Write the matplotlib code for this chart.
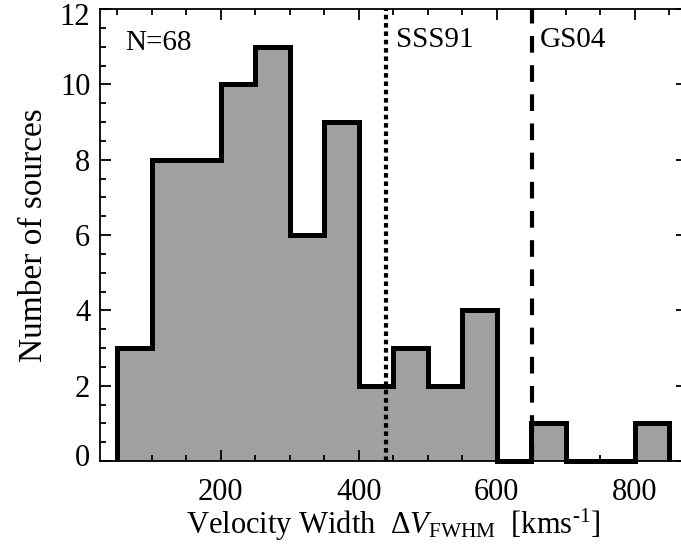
import matplotlib
matplotlib.use("Agg")
import matplotlib.pyplot as plt
import matplotlib.transforms as mtransforms
import numpy as np

# Data
bin_edges = [50, 100, 150, 200, 250, 300, 350, 400, 450, 500, 550, 600, 650, 700, 750, 800, 850]
counts = [3, 8, 8, 10, 11, 6, 9, 2, 3, 2, 4, 0, 1, 0, 0, 1]
ref_lines = [440, 651]
ref_labels = ["SSS91", "GS04"]
n_label = "N=68"
x_ticks = [200, 400, 600, 800]
y_ticks = [0, 2, 4, 6, 8, 10, 12]

plt.rcParams['font.family'] = ['Liberation Serif', 'DejaVu Serif']
plt.rcParams['mathtext.fontset'] = 'custom'
plt.rcParams['mathtext.rm'] = 'Liberation Serif'
plt.rcParams['mathtext.it'] = 'Liberation Serif:italic'

fig = plt.figure(figsize=(6.81, 5.45), dpi=100)
ax = fig.add_axes([100/681, 84/545, 586.5/681, 452/545])

ax.stairs(counts, bin_edges, fill=True, color='#a0a0a0', baseline=0, zorder=1)
ax.stairs(counts, bin_edges, fill=False, color='black', linewidth=3.6, baseline=0,
          zorder=3, clip_on=False)

ax.axvline(ref_lines[0], color='black', linewidth=3.0, linestyle=(0, (1.1, 0.9)), zorder=4)
ax.axvline(ref_lines[1], color='black', linewidth=3.0, linestyle=(0, (4, 3)), zorder=4)

ax.text(ref_lines[0] + 14, 11.0, ref_labels[0], fontsize=21, va='baseline', ha='left')
ax.text(ref_lines[1] + 12, 11.0, ref_labels[1], fontsize=21, va='baseline', ha='left')
ax.text(61, 10.9, n_label, fontsize=21, va='baseline', ha='left')

ax.set_xlim(25, 875)
ax.set_ylim(0, 12)
ax.set_xticks(x_ticks)
ax.set_yticks(y_ticks)
ax.set_xticks(np.arange(50, 876, 50), minor=True)
ax.set_yticks(np.arange(0, 12.01, 0.5), minor=True)

ax.tick_params(which='both', direction='in', top=True, right=True, width=1.3, labelsize=22, color='black')
ax.tick_params(which='major', length=8)
ax.tick_params(which='minor', length=4.5)
ax.tick_params(axis='x', pad=12)
ax.tick_params(axis='y', pad=7)
for s in ax.spines.values():
    s.set_linewidth(1.3)

# nudge end labels inward like the reference
for lab, v in zip(ax.get_yticklabels(), y_ticks):
    if v == 0:
        lab.set_transform(lab.get_transform() + mtransforms.ScaledTranslation(0, 6/100, fig.dpi_scale_trans))
    elif v == 12:
        lab.set_transform(lab.get_transform() + mtransforms.ScaledTranslation(0, -5/100, fig.dpi_scale_trans))

ax.set_xlabel(r"Velocity Width  $\Delta V_{\mathrm{FWHM}}$  [kms$^{\text{-1}}$]", fontsize=22, labelpad=0)
ax.set_ylabel("Number of sources", fontsize=24, labelpad=8)

fig.savefig("out.png", dpi=100)
